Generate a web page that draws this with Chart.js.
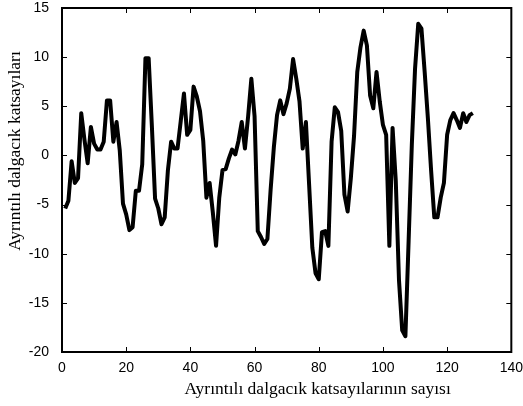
<!DOCTYPE html>
<html>
<head>
<meta charset="utf-8">
<script src="https://cdn.jsdelivr.net/npm/chart.js@4/dist/chart.umd.min.js"></script>
<style>
  body{margin:0;background:#fff;}
  #myChart{display:block;}
</style>
</head>
<body>
<canvas id="myChart" width="523" height="406"></canvas>
<script>
// 1 DATA
const values = [
    -5.4,-4.6,-0.6,-2.8,-2.3, 4.3, 1.6,-0.8, 2.9, 1.2,
     0.6, 0.6, 1.4, 5.6, 5.6, 1.4, 3.4, 0.5,-4.9,-6.0,
    -7.6,-7.3,-3.6,-3.6,-0.9, 9.9, 9.9, 3.0,-4.4,-5.4,
    -7.0,-6.3,-1.5, 1.4, 0.7, 0.7, 3.5, 6.3, 2.1, 2.6,
     7.0, 6.0, 4.5, 1.5,-4.3,-2.8,-5.8,-9.2,-4.3,-1.5,
    -1.4,-0.3, 0.6, 0.1, 1.5, 3.4, 0.7, 4.0, 7.8, 4.0,
    -7.7,-8.3,-9.0,-8.5,-3.5, 0.8, 4.1, 5.6, 4.2, 5.3,
     6.8, 9.8, 7.8, 5.5, 0.7, 3.4,-3.0,-9.4,-12.0,-12.6,
    -7.8,-7.7,-9.2, 1.4, 4.9, 4.4, 2.5,-4.0,-5.7,-2.3,
     2.0, 8.5,11.0,12.7,11.2, 6.1, 4.8, 8.5, 5.5, 3.1,
     2.1,-9.2, 2.8,-2.6,-12.7,-17.8,-18.4,-8.7, 1.1, 8.8,
    13.4,12.9, 8.5, 3.8,-1.5,-6.3,-6.3,-4.3,-2.8, 2.1,
     3.6, 4.3, 3.6, 2.8, 4.3, 3.4, 4.1, 4.3
];
const xTicks = [0, 20, 40, 60, 80, 100, 120, 140];
const yTicks = [-20, -15, -10, -5, 0, 5, 10, 15];
const xTitle = 'Ayrıntılı dalgacık katsayılarının sayısı';
const yTitle = 'Ayrıntılı dalgacık katsayıları';

// 2 POINTS (index starts at 1)
const points = values.map((v, i) => ({x: i + 1, y: v}));

// 3 FRAME, INWARD TICKS AND AXIS TITLES
const framePlugin = {
    id: 'frame',
    afterDraw(chart){
        const {ctx, chartArea: a, scales} = chart;
        ctx.save();
        ctx.strokeStyle = '#000';
        ctx.lineWidth = 1;
        ctx.beginPath();
        xTicks.forEach(t => {
            const px = Math.round(scales.x.getPixelForValue(t)) + 0.5;
            ctx.moveTo(px, a.bottom); ctx.lineTo(px, a.bottom - 5);
            ctx.moveTo(px, a.top); ctx.lineTo(px, a.top + 5);
        });
        yTicks.forEach(t => {
            const py = Math.round(scales.y.getPixelForValue(t)) + 0.5;
            ctx.moveTo(a.left, py); ctx.lineTo(a.left + 5, py);
            ctx.moveTo(a.right, py); ctx.lineTo(a.right - 5, py);
        });
        ctx.stroke();
        ctx.lineWidth = 2;
        ctx.strokeRect(a.left, a.top, a.right - a.left, a.bottom - a.top);

        ctx.fillStyle = '#000';
        ctx.font = '17.5px "Liberation Serif", "Times New Roman", serif';
        ctx.textAlign = 'center';
        ctx.textBaseline = 'middle';
        ctx.fillText(xTitle, (a.left + a.right) / 2 + 31, 389);
        ctx.translate(15, (a.top + a.bottom) / 2 - 29);
        ctx.rotate(-Math.PI / 2);
        ctx.fillText(yTitle, 0, 0);
        ctx.restore();
    }
};

// 4 CHART
const ctx = document.querySelector('#myChart').getContext('2d');
const tickFont = {family: '"Liberation Sans", Arial, sans-serif', size: 14};
const myChart = new Chart(ctx, {
    type: 'line',
    data: {
        datasets: [{
            data: points,
            borderColor: '#000',
            borderWidth: 4,
            borderJoinStyle: 'round',
            pointRadius: 0,
            tension: 0,
            fill: false
        }]
    },
    options: {
        responsive: false,
        animation: false,
        devicePixelRatio: 1,
        layout: {padding: {top: 8, right: 11, left: 0, bottom: 0}},
        plugins: {legend: {display: false}, tooltip: {enabled: false}},
        scales: {
            x: {
                type: 'linear', min: 0, max: 140,
                afterBuildTicks: s => { s.ticks = xTicks.map(v => ({value: v})); },
                ticks: {font: tickFont, color: '#000', padding: 0, maxRotation: 0},
                grid: {display: false},
                border: {display: false},
                afterFit: s => { s.height = 54; }
            },
            y: {
                min: -20, max: 15,
                afterBuildTicks: s => { s.ticks = yTicks.map(v => ({value: v})); },
                ticks: {font: tickFont, color: '#000', padding: 5},
                grid: {display: false},
                border: {display: false},
                afterFit: s => { s.width = 62; s.paddingTop = 0; s.paddingBottom = 0; }
            }
        }
    },
    plugins: [framePlugin]
});
</script>
</body>
</html>
